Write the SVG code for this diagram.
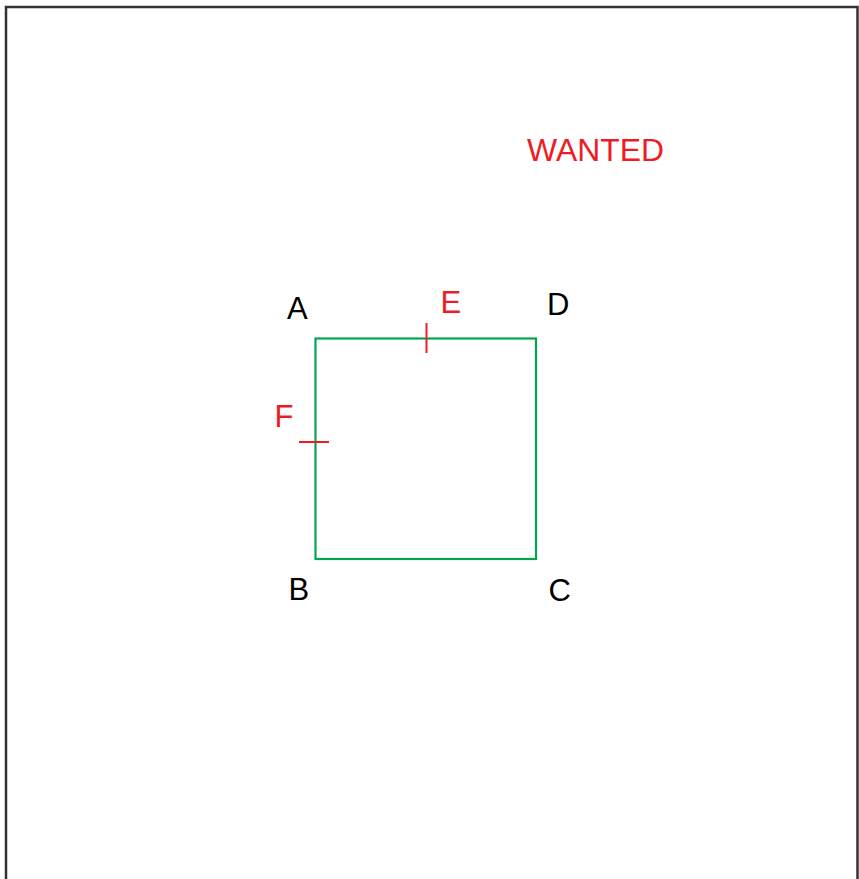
<svg xmlns="http://www.w3.org/2000/svg" width="859" height="879" viewBox="0 0 859 879">
<style>
.lbl{font-family:"Liberation Sans",Arial,sans-serif;font-size:31px;}
.blk{fill:#000;}
.red{fill:#ed1c24;}
.tick{stroke:#ed1c24;stroke-width:2;fill:none;}
</style>
<rect x="0" y="0" width="859" height="879" fill="#fff"/>
<path d="M6,879 V7 H857.5 V879" fill="none" stroke="#333" stroke-width="2.5"/>
<g id="square">
<rect x="315.5" y="338.5" width="220.5" height="220.5" fill="none" stroke="#00a651" stroke-width="2.2"/>
</g>
<g id="ticks">
<line class="tick" x1="426.5" y1="323" x2="426.5" y2="353"/>
<line class="tick" x1="299" y1="442" x2="329" y2="442"/>
</g>
<g id="labels">
<text class="lbl blk" x="287" y="319">A</text>
<text class="lbl blk" x="547" y="315">D</text>
<text class="lbl blk" x="288.5" y="600">B</text>
<text class="lbl blk" x="548.5" y="601">C</text>
<text class="lbl red" x="440.5" y="313">E</text>
<text class="lbl red" x="274.5" y="427">F</text>
<text class="lbl red" x="527" y="161" textLength="137" lengthAdjust="spacingAndGlyphs">WANTED</text>
</g>
</svg>
